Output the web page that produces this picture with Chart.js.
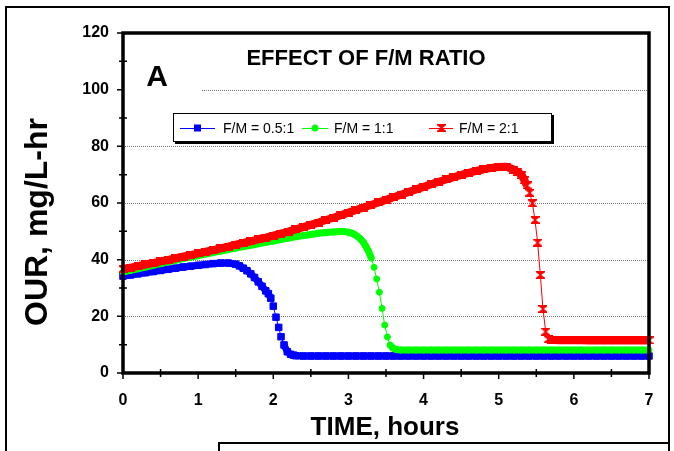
<!DOCTYPE html>
<html>
<head>
<meta charset="utf-8">
<title>Effect of F/M ratio</title>
<script src="https://cdn.jsdelivr.net/npm/chart.js@4.4.1/dist/chart.umd.min.js"></script>
<style>
  html, body { margin: 0; padding: 0; background: #fff; }
  canvas { display: block; }
</style>
</head>
<body>
<canvas id="ourChart" width="674" height="451"></canvas>
<script>
// OUR readings (mg/L-hr) against time (hours)
const blueTime = [0, 0.1, 0.2, 0.3, 0.4, 0.5, 0.6, 0.7, 0.8, 0.9, 1.0, 1.1, 1.2, 1.3, 1.4, 1.5,
  1.55, 1.6, 1.65, 1.7, 1.75, 1.8, 1.85, 1.9, 1.934, 1.967, 2.0, 2.036, 2.072, 2.103, 2.143, 2.187, 2.23, 2.27, 2.3,
  2.4, 2.5, 2.6, 2.7, 2.8, 2.9, 3.0, 3.1, 3.2, 3.3, 3.4, 3.5, 3.6, 3.7, 3.8, 3.9, 4.0, 4.1, 4.2, 4.3, 4.4,
  4.5, 4.6, 4.7, 4.8, 4.9, 5.0, 5.1, 5.2, 5.3, 5.4, 5.5, 5.6, 5.7, 5.8, 5.9, 6.0, 6.1, 6.2, 6.3, 6.4, 6.5,
  6.6, 6.7, 6.8, 6.9, 7.0];
const blueOUR = [34.2, 34.6, 35.0, 35.4, 35.8, 36.2, 36.6, 37.0, 37.4, 37.7, 38.0, 38.3, 38.6, 38.8, 38.8, 38.4,
  37.8, 37.0, 36.1, 35.0, 33.7, 32.2, 30.6, 29.0, 28.0, 26.4, 23.6, 19.7, 16.1, 12.8, 9.9, 7.5, 6.6, 6.3, 6.1,
  6.0, 6.0, 6.0, 6.0, 6.0, 6.0, 6.0, 6.0, 6.0, 6.0, 6.0, 6.0, 6.0, 6.0, 6.0, 6.0, 6.0, 6.0, 6.0, 6.0, 6.0,
  6.0, 6.0, 6.0, 6.0, 6.0, 6.0, 6.0, 6.0, 6.0, 6.0, 6.0, 6.0, 6.0, 6.0, 6.0, 6.0, 6.0, 6.0, 6.0, 6.0, 6.0,
  6.0, 6.0, 6.0, 6.0, 6.0];

const greenTime = [0, 0.1, 0.2, 0.3, 0.4, 0.5, 0.6, 0.7, 0.8, 0.9, 1.0, 1.1, 1.2, 1.3, 1.4, 1.5, 1.6, 1.7, 1.8, 1.9,
  2.0, 2.1, 2.2, 2.3, 2.4, 2.5, 2.6, 2.7, 2.8, 2.9,
  2.95, 3.0, 3.04, 3.08, 3.12, 3.16, 3.2, 3.234, 3.27, 3.305, 3.341, 3.376, 3.412, 3.448, 3.483, 3.519, 3.554,
  3.59, 3.625, 3.66, 3.7,
  3.8, 3.9, 4.0, 4.1, 4.2, 4.3, 4.4, 4.5, 4.6, 4.7, 4.8, 4.9, 5.0, 5.1, 5.2, 5.3, 5.4, 5.5, 5.6, 5.7, 5.8,
  5.9, 6.0, 6.1, 6.2, 6.3, 6.4, 6.5, 6.6, 6.7, 6.8, 6.9, 7.0];
const greenOUR = [35.6, 36.2, 36.8, 37.4, 38.0, 38.6, 39.2, 39.8, 40.4, 40.9, 41.4, 42.0, 42.5, 43.0, 43.6, 44.1,
  44.6, 45.1, 45.6, 46.1, 46.6, 47.1, 47.6, 48.1, 48.5, 48.9, 49.3, 49.6, 49.8, 49.9,
  49.9, 49.7, 49.4, 48.9, 48.2, 47.3, 46.1, 44.6, 42.8, 40.5, 37.3, 33.2, 28.5, 22.8, 16.9, 12.7, 9.9,
  8.8, 8.4, 8.2, 8.1,
  8.1, 8.1, 8.1, 8.1, 8.1, 8.1, 8.1, 8.1, 8.1, 8.1, 8.1, 8.1, 8.1, 8.1, 8.1, 8.1, 8.1, 8.1, 8.1, 8.1, 8.1,
  8.1, 8.1, 8.1, 8.1, 8.1, 8.1, 8.1, 8.1, 8.1, 8.1, 8.1, 8.1];

const redTime = [0, 0.1, 0.2, 0.3, 0.4, 0.5, 0.6, 0.7, 0.8, 0.9, 1.0, 1.1, 1.2, 1.3, 1.4, 1.5, 1.6, 1.7, 1.8, 1.9,
  2.0, 2.1, 2.2, 2.3, 2.4, 2.5, 2.6, 2.7, 2.8, 2.9, 3.0, 3.1, 3.2, 3.3, 3.4, 3.5, 3.6, 3.7, 3.8, 3.9,
  4.0, 4.1, 4.2, 4.3, 4.4, 4.5, 4.6, 4.7, 4.8, 4.9, 5.0, 5.1, 5.2, 5.25,
  5.306, 5.341, 5.377, 5.412, 5.448, 5.483, 5.518, 5.554, 5.589, 5.625, 5.66, 5.7,
  5.8, 5.9, 6.0, 6.1, 6.2, 6.3, 6.4, 6.5, 6.6, 6.7, 6.8, 6.9, 7.0];
const redOUR = [36.7, 37.2, 37.7, 38.3, 38.8, 39.4, 39.9, 40.5, 41.1, 41.6, 42.2, 42.8, 43.4, 44.0, 44.6, 45.3,
  45.9, 46.5, 47.2, 47.8, 48.5, 49.2, 49.9, 50.7, 51.5, 52.3, 53.1, 54.0, 54.8, 55.7, 56.6, 57.5, 58.4, 59.3,
  60.2, 61.1, 62.0, 62.9, 63.9, 64.8, 65.7, 66.6, 67.5, 68.3, 69.1, 69.9, 70.6, 71.3, 71.9, 72.4, 72.7, 72.8,
  71.8, 71.0,
  69.9, 68.0, 66.2, 63.6, 59.9, 54.0, 46.0, 34.6, 22.6, 14.6, 11.9, 11.7,
  11.6, 11.6, 11.6, 11.6, 11.5, 11.5, 11.5, 11.5, 11.5, 11.5, 11.5, 11.5, 11.5];

const seriesNames = ['F/M = 0.5:1', 'F/M = 1:1', 'F/M = 2:1'];
const xTicks = [0, 1, 2, 3, 4, 5, 6, 7];
const yTicks = [0, 20, 40, 60, 80, 100, 120];

const FONT = "'Liberation Sans', Arial, Helvetica, sans-serif";

function toPoints(times, values) {
  return times.map((t, i) => ({ x: t, y: values[i] }));
}

// where markers pile up the original reads as a solid band; only steep steps show the thin line
function bandWidth(thick) {
  return (c) => (Math.abs(c.p1.y - c.p0.y) > 7 ? 1 : thick);
}

// Excel-like "star" marker, looks like a small red hourglass at this size
function makeHourglass(color) {
  const c = document.createElement('canvas');
  c.width = 9;
  c.height = 8;
  const g = c.getContext('2d');
  g.fillStyle = color;
  g.beginPath();
  g.moveTo(0, 0);
  g.lineTo(9, 0);
  g.lineTo(9, 1.2);
  g.lineTo(5.4, 4);
  g.lineTo(9, 6.8);
  g.lineTo(9, 8);
  g.lineTo(0, 8);
  g.lineTo(0, 6.8);
  g.lineTo(3.6, 4);
  g.lineTo(0, 1.2);
  g.closePath();
  g.fill();
  return c;
}
const redMarker = makeHourglass('#ff0000');

function drawLegendMarker(ctx, kind, x, y) {
  if (kind === 'rect') {
    ctx.fillStyle = '#0000ff';
    ctx.fillRect(x - 3.5, y - 3.5, 7, 7);
  } else if (kind === 'circle') {
    ctx.fillStyle = '#00ff00';
    ctx.beginPath();
    ctx.arc(x, y, 3.5, 0, Math.PI * 2);
    ctx.fill();
  } else {
    ctx.drawImage(redMarker, Math.round(x - 4.5), Math.round(y - 4));
  }
}

const figureDecor = {
  id: 'figureDecor',
  beforeDraw(chart) {
    const { ctx, width, height } = chart;
    ctx.save();
    ctx.fillStyle = '#fff';
    ctx.fillRect(0, 0, width, height);
    ctx.strokeStyle = '#000';
    ctx.lineWidth = 2;
    // outer figure frame (bottom edge is off the picture)
    ctx.beginPath();
    ctx.moveTo(6, height + 2);
    ctx.lineTo(6, 7);
    ctx.lineTo(669, 7);
    ctx.lineTo(669, height + 2);
    ctx.stroke();
    // top of the next panel peeking in at the bottom
    ctx.beginPath();
    ctx.moveTo(219, height + 2);
    ctx.lineTo(219, 443);
    ctx.lineTo(669, 443);
    ctx.stroke();
    ctx.restore();
  },
  beforeDatasetsDraw(chart) {
    const { ctx, chartArea: area, scales: { y } } = chart;
    ctx.save();
    ctx.strokeStyle = '#777';
    ctx.lineWidth = 1;
    ctx.setLineDash([1, 1]);
    yTicks.filter((v) => v > 0 && v < 120).forEach((v) => {
      const py = Math.round(y.getPixelForValue(v)) + 0.5;
      const startX = v === 100 ? 202 : area.left;
      ctx.beginPath();
      ctx.moveTo(startX, py);
      ctx.lineTo(area.right, py);
      ctx.stroke();
    });
    ctx.restore();
  },
  afterDatasetsDraw(chart) {
    const { ctx, chartArea: area, scales: { x, y } } = chart;
    ctx.save();

    // plot frame
    ctx.strokeStyle = '#000';
    ctx.lineWidth = 3.5;
    ctx.strokeRect(area.left, area.top, area.right - area.left, area.bottom - area.top);

    // tick marks
    ctx.lineWidth = 1.5;
    ctx.beginPath();
    for (let v = 0; v <= 120; v += 10) {
      const py = y.getPixelForValue(v);
      if (v % 20 === 0) {
        ctx.moveTo(area.left - 6, py);
        ctx.lineTo(area.left, py);
      } else {
        ctx.moveTo(area.left - 4, py);
        ctx.lineTo(area.left + 4, py);
      }
    }
    for (let v = 0; v <= 7; v += 0.5) {
      const px = x.getPixelForValue(v);
      if (Number.isInteger(v)) {
        ctx.moveTo(px, area.bottom);
        ctx.lineTo(px, area.bottom + 6);
      } else {
        ctx.moveTo(px, area.bottom - 4);
        ctx.lineTo(px, area.bottom + 4);
      }
    }
    ctx.stroke();

    // tick labels
    ctx.fillStyle = '#000';
    ctx.font = `bold 16px ${FONT}`;
    ctx.textAlign = 'right';
    ctx.textBaseline = 'middle';
    yTicks.forEach((v) => ctx.fillText(String(v), area.left - 14, y.getPixelForValue(v)));
    ctx.textAlign = 'center';
    xTicks.forEach((v) => ctx.fillText(String(v), x.getPixelForValue(v), area.bottom + 28));

    // axis titles
    ctx.font = `bold 26px ${FONT}`;
    ctx.fillText('TIME, hours', 385, 428);
    ctx.save();
    ctx.translate(38, 222);
    ctx.rotate(-Math.PI / 2);
    ctx.font = `bold 32px ${FONT}`;
    ctx.fillText('OUR, mg/L-hr', 0, 0);
    ctx.restore();

    // panel title and letter
    ctx.font = `bold 22px ${FONT}`;
    ctx.fillText('EFFECT OF F/M RATIO', 366, 59);
    ctx.font = `bold 30px ${FONT}`;
    ctx.fillText('A', 157, 78);

    // legend box with a little drop shadow
    const lx = 173, ly = 113, lw = 379, lh = 29;
    ctx.fillStyle = '#000';
    ctx.fillRect(lx + 2, ly + 2, lw, lh);
    ctx.fillStyle = '#fff';
    ctx.fillRect(lx, ly, lw, lh);
    ctx.strokeStyle = '#000';
    ctx.lineWidth = 1;
    ctx.strokeRect(lx + 0.5, ly + 0.5, lw - 1, lh - 1);

    const items = [
      { color: '#0000ff', kind: 'rect', x0: 180, x1: 215, tx: 223 },
      { color: '#00ff00', kind: 'circle', x0: 302, x1: 328, tx: 334 },
      { color: '#ff0000', kind: 'star', x0: 429, x1: 453, tx: 459 }
    ];
    const my = ly + lh / 2 + 0.5;
    ctx.font = `14px ${FONT}`;
    ctx.textAlign = 'left';
    items.forEach((it, i) => {
      ctx.strokeStyle = it.color;
      ctx.beginPath();
      ctx.moveTo(it.x0, Math.round(my) + 0.5);
      ctx.lineTo(it.x1, Math.round(my) + 0.5);
      ctx.stroke();
      drawLegendMarker(ctx, it.kind, (it.x0 + it.x1) / 2, my);
      ctx.fillStyle = '#000';
      ctx.fillText(seriesNames[i], it.tx, my + 1);
    });

    ctx.restore();
  }
};

const ctx = document.getElementById('ourChart').getContext('2d');
new Chart(ctx, {
  type: 'line',
  data: {
    datasets: [
      {
        label: seriesNames[0],
        data: toPoints(blueTime, blueOUR),
        borderColor: '#0000ff',
        backgroundColor: '#0000ff',
        borderWidth: 1,
        segment: { borderWidth: bandWidth(7) },
        pointStyle: 'rect',
        pointRadius: 4.6,
        pointBorderWidth: 1,
        order: 2
      },
      {
        label: seriesNames[1],
        data: toPoints(greenTime, greenOUR),
        borderColor: '#00ff00',
        backgroundColor: '#00ff00',
        borderWidth: 1,
        segment: { borderWidth: bandWidth(7) },
        pointStyle: 'circle',
        pointRadius: 3,
        pointBorderWidth: 1,
        order: 1
      },
      {
        label: seriesNames[2],
        data: toPoints(redTime, redOUR),
        borderColor: '#ff0000',
        backgroundColor: '#ff0000',
        borderWidth: 1,
        segment: { borderWidth: bandWidth(8) },
        pointStyle: redMarker,
        order: 0
      }
    ]
  },
  options: {
    responsive: false,
    animation: false,
    devicePixelRatio: 1,
    layout: { padding: { left: 123, right: 25, top: 33, bottom: 78 } },
    datasets: { line: { tension: 0, clip: false, fill: false, borderJoinStyle: 'round' } },
    plugins: {
      legend: { display: false },
      tooltip: { enabled: false }
    },
    scales: {
      x: { type: 'linear', min: 0, max: 7, display: false },
      y: { type: 'linear', min: 0, max: 120, display: false }
    }
  },
  plugins: [figureDecor]
});
</script>
</body>
</html>
